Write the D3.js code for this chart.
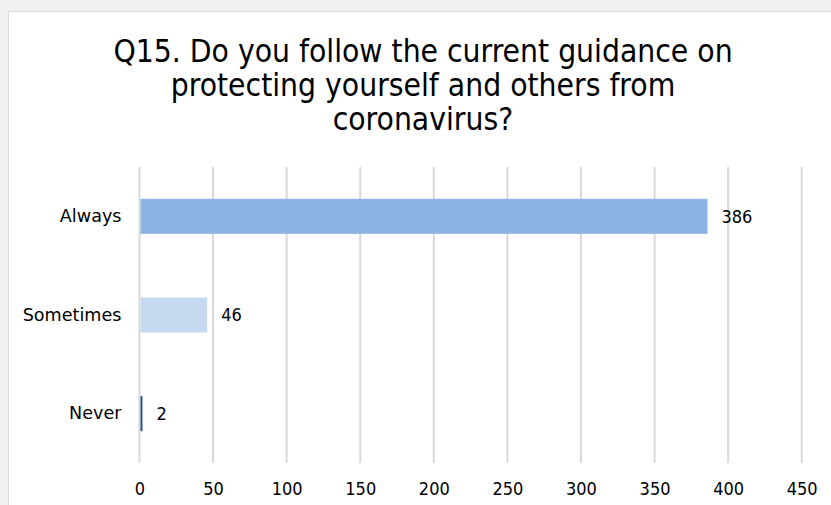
<!DOCTYPE html>
<html>
<head>
<meta charset="utf-8">
<script src="https://cdn.jsdelivr.net/npm/d3@7"></script>
<style>
  html, body { margin: 0; padding: 0; background: #f0f0f0; }
  svg { display: block; }
</style>
</head>
<body>
<svg id="chart" width="831" height="505"></svg>
<script>
// Survey responses
const categories = ["Always", "Sometimes", "Never"];
const values = [386, 46, 2];
const barColors = ["#8eb4e3", "#c6d9f1", "#1f4e8f"];
const tickValues = [0, 50, 100, 150, 200, 250, 300, 350, 400, 450];
const titleLines = [
  "Q15. Do you follow the current guidance on",
  "protecting yourself and others from",
  "coronavirus?"
];

const W = 831, H = 505;
const font = "'DejaVu Sans Condensed', 'DejaVu Sans', sans-serif";
const labelFont = "'DejaVu Sans', sans-serif";
const svg = d3.select("#chart");

// chart panel
svg.append("rect")
  .attr("x", 8.5).attr("y", 11.5)
  .attr("width", W).attr("height", H)
  .attr("fill", "#ffffff")
  .attr("stroke", "#d9d9d9").attr("stroke-width", 1);

const plot = { left: 139.5, right: 801.7, top: 167, bottom: 463 };

const x = d3.scaleLinear().domain([0, 450]).range([plot.left, plot.right]);
const y = d3.scaleBand().domain(categories).range([plot.top, plot.bottom]).paddingInner(0.645).paddingOuter(0.3225);

// vertical gridlines
svg.append("g").selectAll("line").data(tickValues).join("line")
  .attr("x1", d => x(d)).attr("x2", d => x(d))
  .attr("y1", plot.top).attr("y2", plot.bottom)
  .attr("stroke", "#d9d9d9").attr("stroke-width", 2);

// bars (start just right of the zero gridline)
svg.append("g").selectAll("rect").data(categories).join("rect")
  .attr("x", x(0) + 1)
  .attr("y", d => y(d))
  .attr("width", (d, i) => Math.max(1.5, x(values[i]) - x(0) - 1))
  .attr("height", y.bandwidth())
  .attr("fill", (d, i) => barColors[i]);

// value labels
svg.append("g").selectAll("text").data(categories).join("text")
  .attr("x", (d, i) => x(values[i]) + 14)
  .attr("y", d => y(d) + y.bandwidth() / 2)
  .attr("dy", "0.36em")
  .attr("font-family", font).attr("font-size", 18).attr("fill", "#000")
  .text((d, i) => values[i]);

// category axis labels
const yAxis = d3.axisLeft(y).tickSize(0).tickPadding(18);
const gy = svg.append("g").attr("transform", `translate(${plot.left},0)`).call(yAxis);
gy.select(".domain").remove();
gy.selectAll("text").attr("font-family", labelFont).attr("font-size", 17.6).attr("fill", "#000");

// value axis labels
const xAxis = d3.axisBottom(x).tickValues(tickValues).tickSize(0).tickPadding(19);
const gx = svg.append("g").attr("transform", `translate(0,${plot.bottom})`).call(xAxis);
gx.select(".domain").remove();
gx.selectAll("text").attr("font-family", font).attr("font-size", 18).attr("fill", "#000");

// title
svg.append("text")
  .attr("text-anchor", "middle")
  .attr("font-family", font).attr("font-size", 31.5).attr("fill", "#000")
  .selectAll("tspan").data(titleLines).join("tspan")
  .attr("x", 423).attr("y", (d, i) => 62 + i * 34)
  .text(d => d);
</script>
</body>
</html>
